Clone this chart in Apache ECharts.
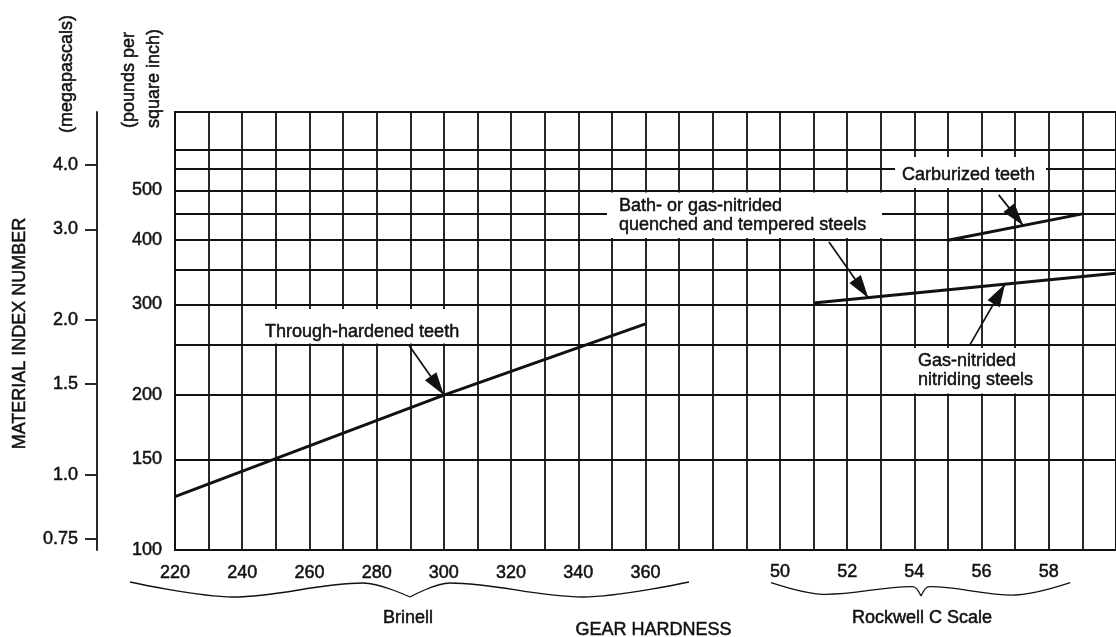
<!DOCTYPE html>
<html>
<head>
<meta charset="utf-8">
<script src="https://cdn.jsdelivr.net/npm/echarts@6/dist/echarts.min.js"></script>
<style>
  html, body { margin: 0; padding: 0; background: #fff; }
  #chart { width: 1116px; height: 637px; }
</style>
</head>
<body>
<div id="chart"></div>
<script>
// axis ticks
const brinellLabels = [220, 240, 260, 280, 300, 320, 340, 360];
const rockwellLabels = [50, 52, 54, 56, 58];
const psiLabels = [100, 150, 200, 300, 400, 500];
const psiGridLines = [150, 200, 250, 300, 350, 400, 450, 500, 550, 600];
const mpaLabels = [0.75, 1.0, 1.5, 2.0, 3.0, 4.0];
const PSI_MIN = 100;
const PSI_MAX = 710;
const PSI_PER_MPA = 140;

// curves
const throughHardenedHB = [220, 300, 360];
const throughHardenedPsi = [127, 200, 275];
const nitridedHRC = [51, 60];
const nitridedPsi = [302, 345];
const carburizedHRC = [55, 59];
const carburizedPsi = [400, 450];

// leader arrows: [tail, tip]
const throughArrow = [[289.6, 250], [300, 200]];
const bathArrow = [[51.46, 397], [52.63, 309]];
const gasArrow = [[55.66, 251], [56.7, 329]];
const carbArrow = [[56.51, 490], [57.24, 427]];

const FONT = '"Liberation Sans", Arial, Helvetica, sans-serif';
const INK = '#111';

function zip(xs, ys) {
    return xs.map((x, i) => [x, ys[i]]);
}

function arrows(list) {
    return {
        silent: true,
        symbol: ['none', 'triangle'],
        symbolSize: [14, 23],
        symbolOffset: [0, [0, 11.5]],
        label: { show: false },
        lineStyle: { color: INK, width: 1.7, type: 'solid' },
        itemStyle: { color: INK },
        emphasis: { disabled: true },
        data: list.map(a => [{ coord: a[0] }, { coord: a[1] }])
    };
}

function box(x, y, w, h) {
    return { type: 'rect', z: 10, shape: { x: x, y: y, width: w, height: h }, style: { fill: '#fff' } };
}

function txt(text, x, y, opts) {
    return Object.assign({
        type: 'text', z: 11, x: x, y: y,
        style: Object.assign({
            text: text, fill: INK, font: '18px ' + FONT,
            stroke: INK, lineWidth: 0.5,
            align: 'left', verticalAlign: 'middle'
        }, (opts && opts.style) || {})
    }, opts && opts.rotation != null ? { rotation: opts.rotation } : {});
}

function brace(points) {
    return {
        type: 'polyline', z: 5,
        shape: { points: points, smooth: 0.35 },
        style: { stroke: INK, lineWidth: 1.3, fill: null }
    };
}

const myChart = echarts.init(document.getElementById('chart'));
const gridLine = { color: INK, width: 1.8 };
const labelStyle = { color: INK, fontSize: 18, fontFamily: FONT, textBorderColor: INK, textBorderWidth: 0.5 };

const option = {
    animation: false,
    backgroundColor: '#fff',
    grid: {
        left: 175, top: 112, width: 952, height: 438,
        show: true, borderColor: INK, borderWidth: 1.8, backgroundColor: 'transparent'
    },
    xAxis: [
        {
            type: 'value', min: 220, max: 500, interval: 10, position: 'bottom',
            axisLine: { show: false }, axisTick: { show: false },
            axisLabel: Object.assign({ customValues: brinellLabels, margin: 14 }, labelStyle),
            splitLine: { show: true, lineStyle: gridLine }
        },
        {
            type: 'value', min: 32, max: 60, interval: 1, position: 'bottom',
            axisLine: { show: false }, axisTick: { show: false },
            axisLabel: Object.assign({ customValues: rockwellLabels, margin: 13 }, labelStyle),
            splitLine: { show: false }
        }
    ],
    yAxis: [
        {
            type: 'log', logBase: 10, min: PSI_MIN, max: PSI_MAX, position: 'left',
            axisLine: { show: false },
            axisTick: { show: false, customValues: psiGridLines },
            axisLabel: Object.assign({ customValues: psiLabels, margin: 13 }, labelStyle),
            splitLine: { show: true, lineStyle: gridLine },
            minorTick: { show: false }, minorSplitLine: { show: false }
        },
        {
            type: 'log', logBase: 10, min: PSI_MIN / PSI_PER_MPA, max: PSI_MAX / PSI_PER_MPA,
            position: 'left', offset: 78,
            axisLine: { show: true, lineStyle: gridLine },
            axisTick: { show: true, customValues: mpaLabels, length: 12, lineStyle: gridLine },
            axisLabel: Object.assign({
                customValues: mpaLabels, margin: 19,
                formatter: v => (v === 0.75 ? '0.75' : Number(v).toFixed(1))
            }, labelStyle),
            splitLine: { show: false },
            minorTick: { show: false }, minorSplitLine: { show: false }
        }
    ],
    series: [
        {
            name: 'Through-hardened teeth', type: 'line', xAxisIndex: 0, yAxisIndex: 0,
            data: zip(throughHardenedHB, throughHardenedPsi),
            symbol: 'none', silent: true,
            lineStyle: { color: INK, width: 3 },
            markLine: arrows([throughArrow])
        },
        {
            name: 'Nitrided steels', type: 'line', xAxisIndex: 1, yAxisIndex: 0,
            data: zip(nitridedHRC, nitridedPsi),
            symbol: 'none', silent: true,
            lineStyle: { color: INK, width: 3 },
            markLine: arrows([bathArrow, gasArrow])
        },
        {
            name: 'Carburized teeth', type: 'line', xAxisIndex: 1, yAxisIndex: 0,
            data: zip(carburizedHRC, carburizedPsi),
            symbol: 'none', silent: true,
            lineStyle: { color: INK, width: 3 },
            markLine: arrows([carbArrow])
        }
    ],
    graphic: [
        // label boxes hide the grid behind the notes
        box(250, 309, 220, 34.5),
        txt('Through-hardened teeth', 265, 332),
        box(607, 192.5, 275, 45.5),
        txt('Bath- or gas-nitrided\nquenched and tempered steels', 619, 215.5, { style: { lineHeight: 19 } }),
        box(895, 157, 151, 31),
        txt('Carburized teeth', 902, 175),
        box(913, 348, 132, 45.5),
        txt('Gas-nitrided\nnitriding steels', 918, 371, { style: { lineHeight: 19 } }),

        // axis titles
        txt('MATERIAL INDEX NUMBER', 20, 333.5, { rotation: Math.PI / 2, style: { align: 'center' } }),
        txt('(megapascals)', 67.5, 74, { rotation: Math.PI / 2, style: { align: 'center' } }),
        txt('(pounds per\nsquare inch)', 141.7, 128, { rotation: Math.PI / 2, style: { lineHeight: 25 } }),

        // hardness scale braces
        brace([[130, 582], [233, 597], [363, 583], [410, 597]]),
        brace([[410, 597], [450, 583], [583, 597], [689, 582]]),
        brace([[771, 582.7], [822.7, 594.3], [912.7, 586.7], [921, 596]]),
        brace([[921, 596], [929.3, 586.7], [1016, 595], [1070.3, 582.7]]),
        txt('Brinell', 408, 618, { style: { align: 'center' } }),
        txt('Rockwell C Scale', 922, 618, { style: { align: 'center' } }),
        txt('GEAR HARDNESS', 653.5, 630, { style: { align: 'center' } })
    ]
};

myChart.setOption(option);
</script>
</body>
</html>
